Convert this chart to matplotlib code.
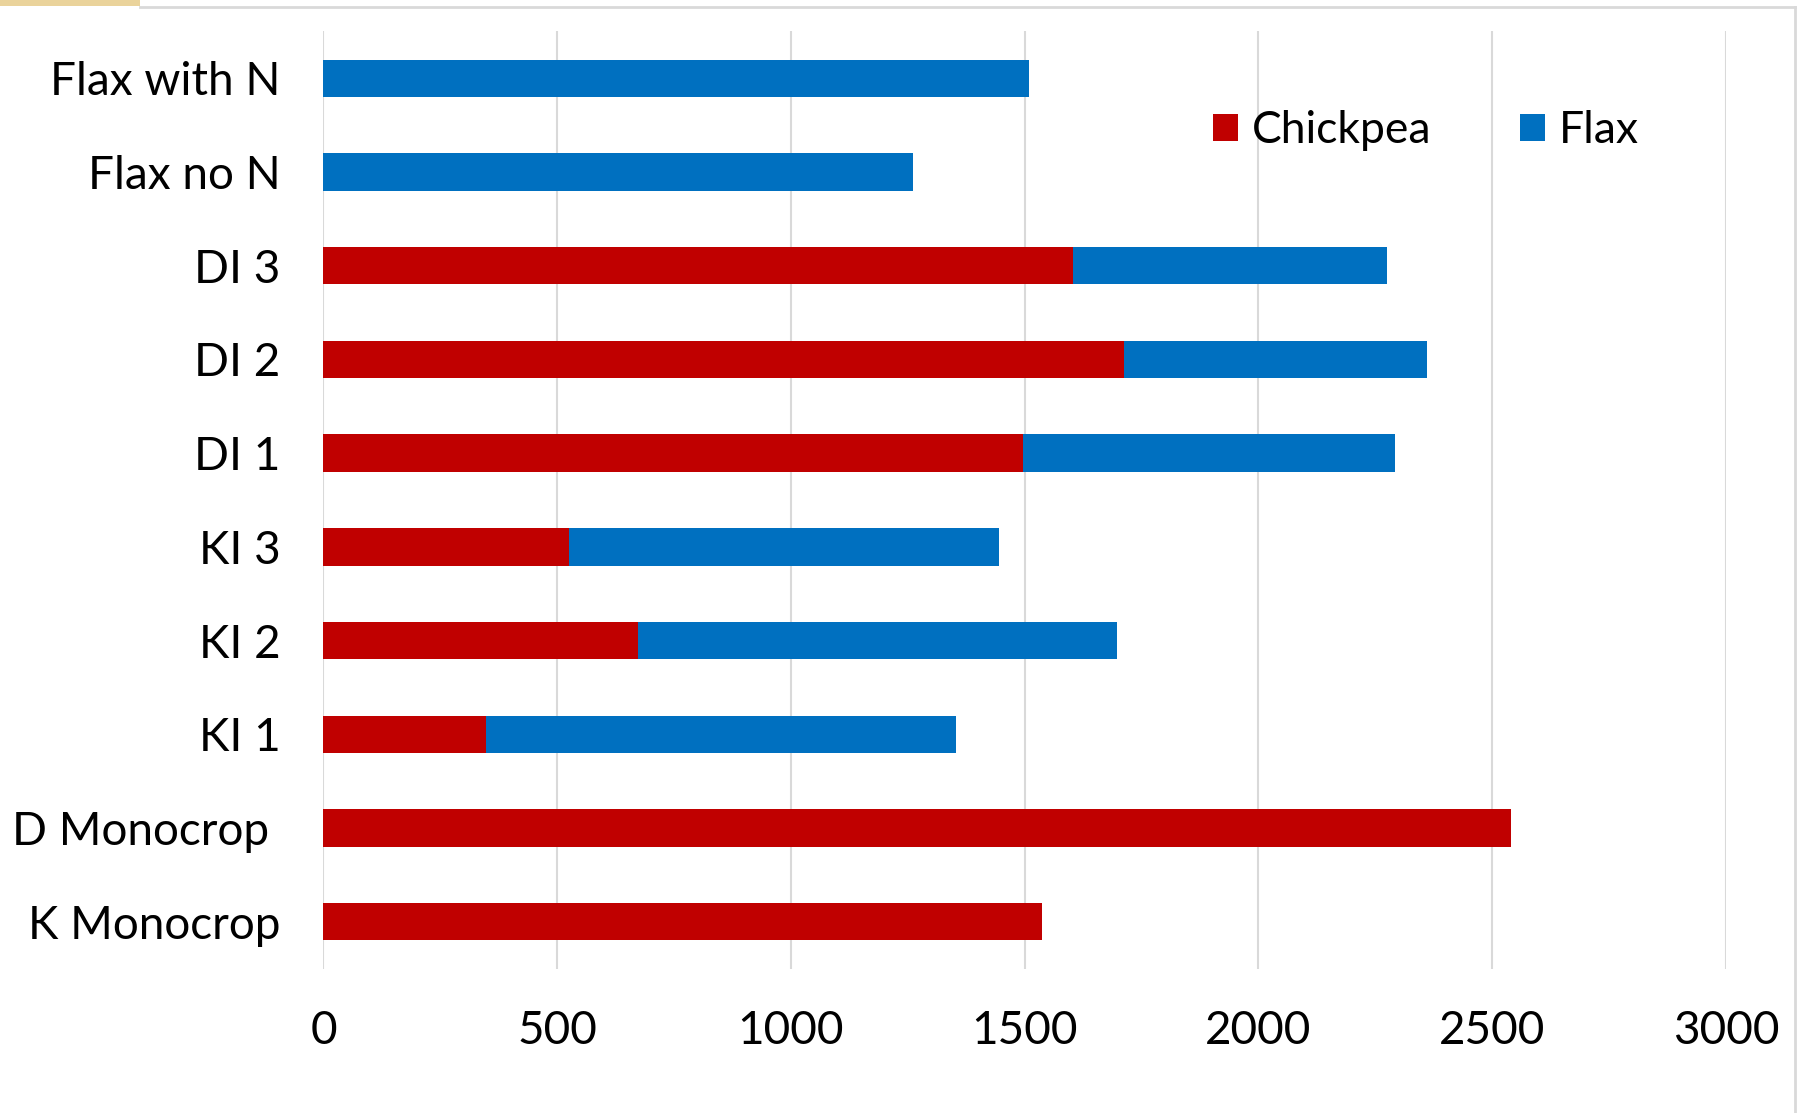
import matplotlib.pyplot as plt
from matplotlib.patches import Rectangle
from matplotlib.lines import Line2D

# treatments, bottom to top
treatments = ["K Monocrop", "D Monocrop ", "KI 1", "KI 2", "KI 3",
              "DI 1", "DI 2", "DI 3", "Flax no N", "Flax with N"]
chickpea = [1538, 2540, 347, 673, 526, 1496, 1713, 1603, 0, 0]
flax = [0, 0, 1006, 1025, 919, 797, 648, 672, 1260, 1509]
x_ticks = [0, 500, 1000, 1500, 2000, 2500, 3000]

red = "#C00000"
blue = "#0070C0"
grid_col = "#d9d9d9"

plt.rcParams["font.family"] = ["Lato", "DejaVu Sans"]

fig = plt.figure(figsize=(18.06, 11.13), dpi=100)
ax = fig.add_axes([0.1791, 0.1298, 0.9557 - 0.1791, 0.9717 - 0.1298])

y = range(len(treatments))
ax.barh(y, chickpea, height=0.4, color=red, label="Chickpea", zorder=3)
ax.barh(y, flax, left=chickpea, height=0.4, color=blue, label="Flax", zorder=3)

ax.set_xlim(0, 3000)
ax.set_ylim(-0.5, len(treatments) - 0.5)
ax.set_xticks(x_ticks)
ax.set_xticklabels([str(t) for t in x_ticks])
ax.set_yticks(list(y))
ax.set_yticklabels(treatments)
ax.tick_params(axis="both", length=0, labelsize=33, colors="black")
ax.tick_params(axis="y", pad=31)
ax.tick_params(axis="x", pad=30)
ax.xaxis.grid(True, color=grid_col, linewidth=1.5, zorder=0)
ax.set_axisbelow(True)
for s in ax.spines.values():
    s.set_visible(False)

ax.legend(loc="center left", bbox_to_anchor=(1213 / 1806, 1 - 131 / 1113),
          bbox_transform=fig.transFigure, ncol=2, frameon=False,
          fontsize=32, handlelength=0.57, handleheight=0.57,
          handletextpad=0.3, columnspacing=2.0, borderpad=0, borderaxespad=0)

# chart area border and slide fragment at the top edge
fig.add_artist(Line2D([140 / 1806, 1795 / 1806], [1 - 6.5 / 1113] * 2,
                      transform=fig.transFigure, color=grid_col, linewidth=2))
fig.add_artist(Line2D([1795 / 1806] * 2, [0, 1 - 6.5 / 1113],
                      transform=fig.transFigure, color=grid_col, linewidth=2))
fig.add_artist(Rectangle((0, 1 - 6 / 1113), 140 / 1806, 6 / 1113,
                         transform=fig.transFigure, color="#ead39b", lw=0))

fig.savefig("out.png", dpi=100, facecolor="white")
